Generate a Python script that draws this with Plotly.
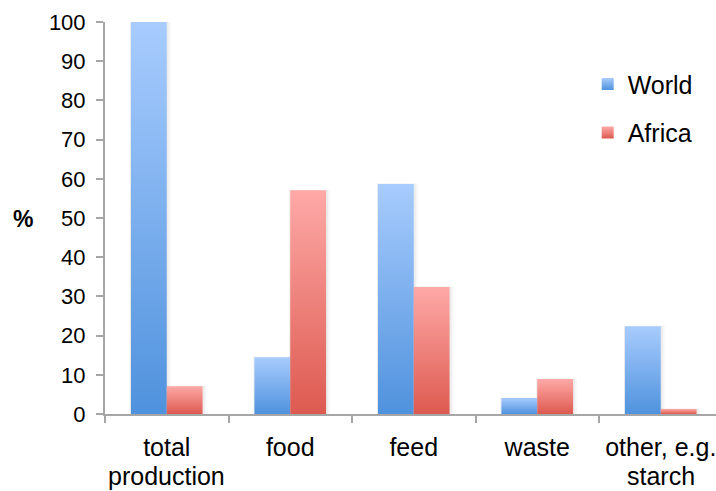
import plotly.graph_objects as go

# Share of maize use, in percent of production
categories = [["total", "production"], ["food"], ["feed"], ["waste"], ["other, e.g.", "starch"]]
world = [100, 14.5, 58.7, 4.1, 22.4]
africa = [7.1, 57.1, 32.4, 8.9, 1.3]
y_ticks = list(range(0, 101, 10))

series = [
    ("World", world, (-0.29, 0.0), "#4f92dd", "#a8ccfe"),
    ("Africa", africa, (0.0, 0.29), "#dd5a50", "#fea9a7"),
]

font_family = "Liberation Sans, Arial, sans-serif"
axis_color = "#a6a6a6"
px = 1 / 123.5          # one pixel in category units
py = 100 / 392          # one pixel in percent units

fig = go.Figure()

# soft drop shadow behind every bar
for name, values, (x0, x1), bottom, top in series:
    for i, v in enumerate(values):
        for grow, alpha in ((4, 0.03), (2, 0.045)):
            fig.add_trace(go.Scatter(
                x=[i + x0 - px, i + x0 - px, i + x1 + grow * px, i + x1 + grow * px, i + x0 - px],
                y=[-grow * py, v + 0.5 * py, v + 0.5 * py, -grow * py, -grow * py],
                mode="lines", line=dict(width=0), fill="toself",
                fillcolor=f"rgba(0,0,0,{alpha})",
                showlegend=False, hoverinfo="skip",
            ))

# one filled rectangle per bar so each gets its own top-to-bottom gradient
for name, values, (x0, x1), bottom, top in series:
    for i, v in enumerate(values):
        fig.add_trace(go.Scatter(
            x=[i + x0, i + x0, i + x1, i + x1, i + x0],
            y=[0, v, v, 0, 0],
            mode="lines",
            line=dict(width=0, color=bottom),
            fill="toself",
            fillgradient=dict(type="vertical", colorscale=[[0, bottom], [1, top]]),
            name=name, legendgroup=name, showlegend=False,
            hoverinfo="skip",
        ))
    # legend key: small square with the same gradient
    fig.add_trace(go.Scatter(
        x=[None], y=[None], mode="markers",
        marker=dict(symbol="square", size=12, color=top,
                    gradient=dict(type="vertical", color=bottom), line=dict(width=0)),
        name=name, legendgroup=name, showlegend=True,
    ))

# second lines of the category labels
label_lines = [
    dict(text=lines[1], x=i, xref="x", y=0, yref="paper", yanchor="top",
         yshift=-46, showarrow=False, font=dict(size=25))
    for i, lines in enumerate(categories) if len(lines) > 1
]

fig.update_layout(
    width=716,
    height=491,
    margin=dict(l=105, r=0, t=22, b=77),
    paper_bgcolor="white",
    plot_bgcolor="white",
    font=dict(family=font_family, size=22, color="black"),
    showlegend=True,
    legend=dict(
        x=0.79, y=0.90, xanchor="left", yanchor="top",
        font=dict(size=25),
        tracegroupgap=13,
        bgcolor="rgba(0,0,0,0)",
    ),
    xaxis=dict(
        range=[-0.5, (716 - 105) / 123.5 - 0.5],
        tickmode="array",
        tickvals=list(range(len(categories))),
        ticktext=[lines[0] for lines in categories],
        ticks="",
        ticklabelstandoff=10,
        ticklabeloverflow="allow",
        showline=True,
        linecolor=axis_color,
        linewidth=2,
        showgrid=False,
        zeroline=False,
        minor=dict(
            tickmode="array",
            tickvals=[k - 0.5 for k in range(len(categories) + 1)],
            ticks="outside",
            ticklen=7,
            tickwidth=2,
            tickcolor=axis_color,
            showgrid=False,
        ),
        tickfont=dict(size=25),
        fixedrange=True,
    ),
    yaxis=dict(
        range=[0, 100],
        tickmode="array",
        tickvals=y_ticks,
        ticks="outside",
        ticklen=7,
        tickwidth=2,
        tickcolor=axis_color,
        showline=True,
        linecolor=axis_color,
        linewidth=2,
        showgrid=False,
        zeroline=False,
        tickfont=dict(size=22),
        ticklabelstandoff=6,
        fixedrange=True,
    ),
    annotations=[
        dict(text="<b>%</b>", x=(23 - 105) / 611, y=1 - (219 - 22) / 392,
             xref="paper", yref="paper", xanchor="center", yanchor="middle",
             showarrow=False, font=dict(size=23)),
        *label_lines,
    ],
)

fig.write_html("out.html")
